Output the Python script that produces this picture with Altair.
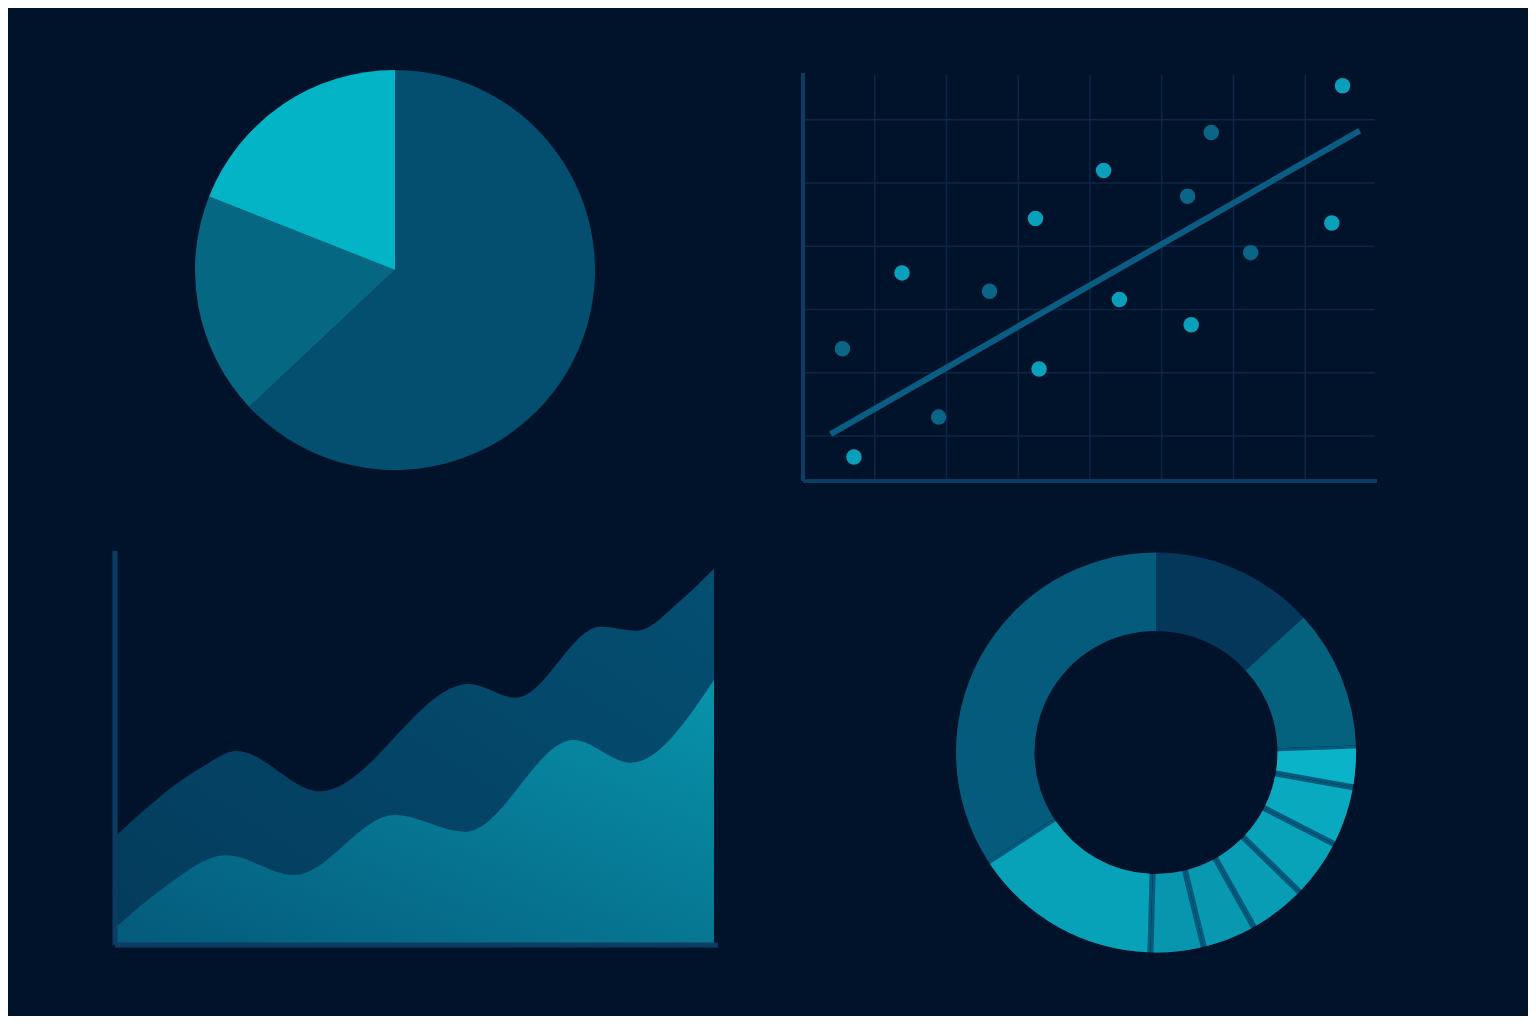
import altair as alt
import pandas as pd

BG = "#01122b"
GRID = "#0c2747"
AXIS = "#0d3c62"

# ---------------- pie (top left) ----------------
pie_share = [63, 18, 19]
pie_color = ["#044f6f", "#056782", "#03b3c6"]

# ---------------- scatter (top right) ----------------
sc_x = [0.55, 0.71, 1.38, 1.89, 2.60, 3.24, 3.29, 4.19, 4.41, 5.36, 5.41, 5.69, 6.24, 7.37, 7.52]
sc_y = [2.38, 0.67, 3.58, 1.30, 3.29, 4.44, 2.06, 5.20, 3.16, 4.79, 2.76, 5.80, 3.90, 4.37, 6.54]
sc_tone = ["dark", "light", "light", "dark", "dark", "light", "light", "light",
           "light", "dark", "light", "dark", "dark", "light", "light"]
tone_color = {"dark": "#0a6586", "light": "#0a9fba"}
trend_x = [0.385, 7.76]
trend_y = [1.03, 5.83]
grid_x = [1, 2, 3, 4, 5, 6, 7]
grid_y = [1, 2, 3, 4, 5, 6]
SC_XDOM = [0, 8]
SC_YDOM = [0.29, 6.74]

# ---------------- area (bottom left) ----------------
back_x = [0.2, 8.7, 12.1, 20.4, 35.2, 39.9, 48.3, 51.9, 56.2, 59.6]
back_y = [11.2, 18.1, 19.7, 15.6, 26.5, 25.1, 32.3, 31.9, 34.9, 38.2]
front_x = [0.2, 4.6, 11.1, 17.8, 27.8, 34.9, 45.6, 51.3, 59.6]
front_y = [1.9, 5.6, 9.1, 7.1, 13.2, 11.5, 20.8, 18.5, 26.9]
AR_XDOM = [0, 60]
AR_YDOM = [0, 40]

# ---------------- donut (bottom right) ----------------
donut_share = [47.5, 40.5, 12, 17.2, 17, 16.5, 15.5, 15.4, 55.4, 123]
donut_color = ["#04375a", "#05627f", "#0ab3c7", "#09aac0", "#08a3b9", "#089db4",
               "#0898b0", "#0896ae", "#07a2b8", "#055b7b"]
donut_split = [0, 0, 1, 1, 1, 1, 1, 1, 1, 0]
SEP = "#065a7c"

# ---------------- layout (chart pixels) ----------------
SC_XR = [795, 1369]
SC_YR = [473, 65]
AR_XR = [107, 710]
AR_YR = [937, 543]
PIE_CX, PIE_CY, PIE_R = 387, 262, 200
DON_CX, DON_CY, DON_R, DON_IR = 1148, 744.5, 200, 121.5

sx = alt.Scale(domain=SC_XDOM, range=SC_XR, nice=False, zero=False)
sy = alt.Scale(domain=SC_YDOM, range=SC_YR, nice=False, zero=False)
ax = alt.Scale(domain=AR_XDOM, range=AR_XR, nice=False, zero=False)
ay = alt.Scale(domain=AR_YDOM, range=AR_YR, nice=False, zero=False)

# pie
pie_df = pd.DataFrame({"v": pie_share, "c": pie_color, "o": list(range(len(pie_share)))})
pie = alt.Chart(pie_df).mark_arc(outerRadius=PIE_R).encode(
    theta=alt.Theta("v:Q", stack=True),
    color=alt.Color("c:N", scale=None),
    order=alt.Order("o:Q"),
    x=alt.value(PIE_CX), y=alt.value(PIE_CY),
)

# scatter grid
gx_df = pd.DataFrame({"g": grid_x, "y0": SC_YDOM[0], "y1": SC_YDOM[1] - 0.03})
gy_df = pd.DataFrame({"g": grid_y, "x0": SC_XDOM[0], "x1": SC_XDOM[1] - 0.03})
vgrid = alt.Chart(gx_df).mark_rule(color=GRID, strokeWidth=1.5).encode(
    x=alt.X("g:Q", scale=sx, axis=None),
    y=alt.Y("y0:Q", scale=sy, axis=None), y2="y1:Q")
hgrid = alt.Chart(gy_df).mark_rule(color=GRID, strokeWidth=1.5).encode(
    y=alt.Y("g:Q", scale=sy, axis=None),
    x=alt.X("x0:Q", scale=sx, axis=None), x2="x1:Q")
sc_axes_df = pd.DataFrame({
    "x0": [SC_XDOM[0], SC_XDOM[0]], "x1": [SC_XDOM[0], SC_XDOM[1]],
    "y0": [SC_YDOM[0], SC_YDOM[0]], "y1": [SC_YDOM[1], SC_YDOM[0]],
})
sc_axes = alt.Chart(sc_axes_df).mark_rule(color=AXIS, strokeWidth=4).encode(
    x=alt.X("x0:Q", scale=sx, axis=None), x2="x1:Q",
    y=alt.Y("y0:Q", scale=sy, axis=None), y2="y1:Q")
trend_df = pd.DataFrame({"x": trend_x, "y": trend_y})
trend = alt.Chart(trend_df).mark_line(color="#0b5c82", strokeWidth=6, strokeCap="butt").encode(
    x=alt.X("x:Q", scale=sx, axis=None), y=alt.Y("y:Q", scale=sy, axis=None))
pts_df = pd.DataFrame({"x": sc_x, "y": sc_y, "c": [tone_color[t] for t in sc_tone]})
pts = alt.Chart(pts_df).mark_circle(size=240, opacity=1).encode(
    x=alt.X("x:Q", scale=sx, axis=None), y=alt.Y("y:Q", scale=sy, axis=None),
    color=alt.Color("c:N", scale=None))

# area
back_df = pd.DataFrame({"x": back_x, "y": back_y})
front_df = pd.DataFrame({"x": front_x, "y": front_y})
back = alt.Chart(back_df).mark_area(
    interpolate="monotone",
    color=alt.Gradient(gradient="linear", x1=0, y1=1, x2=1, y2=0,
                       stops=[alt.GradientStop(offset=0, color="#043b5c"),
                              alt.GradientStop(offset=1, color="#044f72")]),
).encode(x=alt.X("x:Q", scale=ax, axis=None), y=alt.Y("y:Q", scale=ay, axis=None))
front = alt.Chart(front_df).mark_area(
    interpolate="monotone",
    color=alt.Gradient(gradient="linear", x1=0, y1=1, x2=1, y2=0,
                       stops=[alt.GradientStop(offset=0, color="#055a7b"),
                              alt.GradientStop(offset=1, color="#0893ab")]),
).encode(x=alt.X("x:Q", scale=ax, axis=None), y=alt.Y("y:Q", scale=ay, axis=None))
ar_axes_df = pd.DataFrame({
    "x0": [AR_XDOM[0], AR_XDOM[0]], "x1": [AR_XDOM[0], AR_XDOM[1]],
    "y0": [AR_YDOM[0], AR_YDOM[0]], "y1": [AR_YDOM[1], AR_YDOM[0]],
})
ar_axes = alt.Chart(ar_axes_df).mark_rule(color=AXIS, strokeWidth=5).encode(
    x=alt.X("x0:Q", scale=ax, axis=None), x2="x1:Q",
    y=alt.Y("y0:Q", scale=ay, axis=None), y2="y1:Q")

# donut
don_df = pd.DataFrame({
    "v": donut_share,
    "c": donut_color,
    "base": [SEP if s else c for s, c in zip(donut_split, donut_color)],
    "s": donut_split,
    "o": list(range(len(donut_share))),
})
don_base = alt.Chart(don_df).mark_arc(outerRadius=DON_R, innerRadius=DON_IR).encode(
    theta=alt.Theta("v:Q", stack=True),
    color=alt.Color("base:N", scale=None),
    order=alt.Order("o:Q"),
    x=alt.value(DON_CX), y=alt.value(DON_CY),
)
don_top = alt.Chart(don_df).mark_arc(outerRadius=DON_R, innerRadius=DON_IR, padAngle=0.026).encode(
    theta=alt.Theta("v:Q", stack=True),
    color=alt.Color("c:N", scale=None),
    opacity=alt.Opacity("s:Q", scale=None),
    order=alt.Order("o:Q"),
    x=alt.value(DON_CX), y=alt.value(DON_CY),
)

chart = alt.layer(
    pie, vgrid, hgrid, trend, pts, sc_axes, back, front, ar_axes, don_base, don_top
).resolve_scale(
    x="independent", y="independent", theta="independent"
).properties(
    width=1520, height=1008, padding=0, background=BG,
    autosize=alt.AutoSizeParams(type="none"),
).configure_view(stroke=None)

chart.save("out.html", embed_options={"renderer": "svg", "actions": False})
